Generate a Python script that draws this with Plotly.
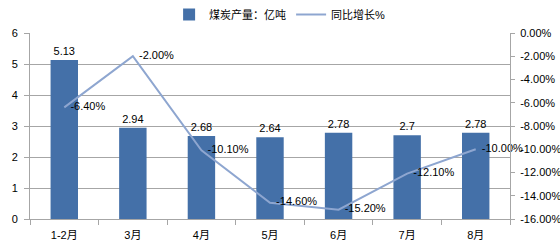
import plotly.graph_objects as go

categories = ["1-2月", "3月", "4月", "5月", "6月", "7月", "8月"]
output_values = [5.13, 2.94, 2.68, 2.64, 2.78, 2.7, 2.78]
growth_values = [-6.40, -2.00, -10.10, -14.60, -15.20, -12.10, -10.00]
left_ticks = [0, 1, 2, 3, 4, 5, 6]
right_ticks = [0, -2, -4, -6, -8, -10, -12, -14, -16]

FONT = "Liberation Sans, Noto Sans CJK SC, sans-serif"
BAR = "#4470A8"
LINE = "#8EA6D0"
GRID = "#A6A6A6"

fig = go.Figure()
fig.add_trace(go.Bar(
    x=categories, y=output_values, name="煤炭产量：亿吨",
    marker=dict(color=BAR, line=dict(width=0)),
    text=[str(v) for v in output_values], textposition="outside",
    textfont=dict(color="#000000", size=11, family=FONT),
    cliponaxis=False,
))
fig.add_trace(go.Scatter(
    x=categories, y=growth_values, name="同比增长%", yaxis="y2",
    mode="lines+text", line=dict(color=LINE, width=2),
    text=["  " + f"{v:.2f}%" for v in growth_values], textposition="middle right",
    textfont=dict(color="#000000", size=11, family=FONT),
    cliponaxis=False,
))

fig.update_layout(
    width=560, height=241,
    margin=dict(l=30, r=50, t=33, b=22, autoexpand=False),
    paper_bgcolor="white", plot_bgcolor="white",
    font=dict(family=FONT, size=11, color="#000000"),
    bargap=0.6,
    showlegend=True,
    legend=dict(orientation="h", x=0.52, xanchor="center", y=1.0, yref="container",
                yanchor="top", font=dict(size=11), itemwidth=30,
                bgcolor="rgba(0,0,0,0)"),
    xaxis=dict(
        showgrid=False, showline=True, linecolor=GRID, linewidth=1,
        ticks="outside", ticklen=5, tickcolor=GRID, tickson="boundaries",
        tickfont=dict(size=11), fixedrange=True, ticklabelstandoff=6,
    ),
    yaxis=dict(
        range=[0, 6], tickvals=left_ticks, showgrid=True, gridcolor=GRID,
        showline=True, linecolor=GRID, ticks="outside", ticklen=5, tickcolor=GRID,
        zeroline=False, tickfont=dict(size=11), ticklabelstandoff=4,
    ),
    yaxis2=dict(
        range=[-16, 0], tickvals=right_ticks,
        ticktext=[f"{v:.2f}%" for v in right_ticks],
        overlaying="y", side="right", showgrid=False, showline=True,
        linecolor=GRID, ticks="outside", ticklen=4, tickcolor=GRID,
        zeroline=False, tickfont=dict(size=11), ticklabelstandoff=3,
    ),
)

fig.write_html("out.html")
